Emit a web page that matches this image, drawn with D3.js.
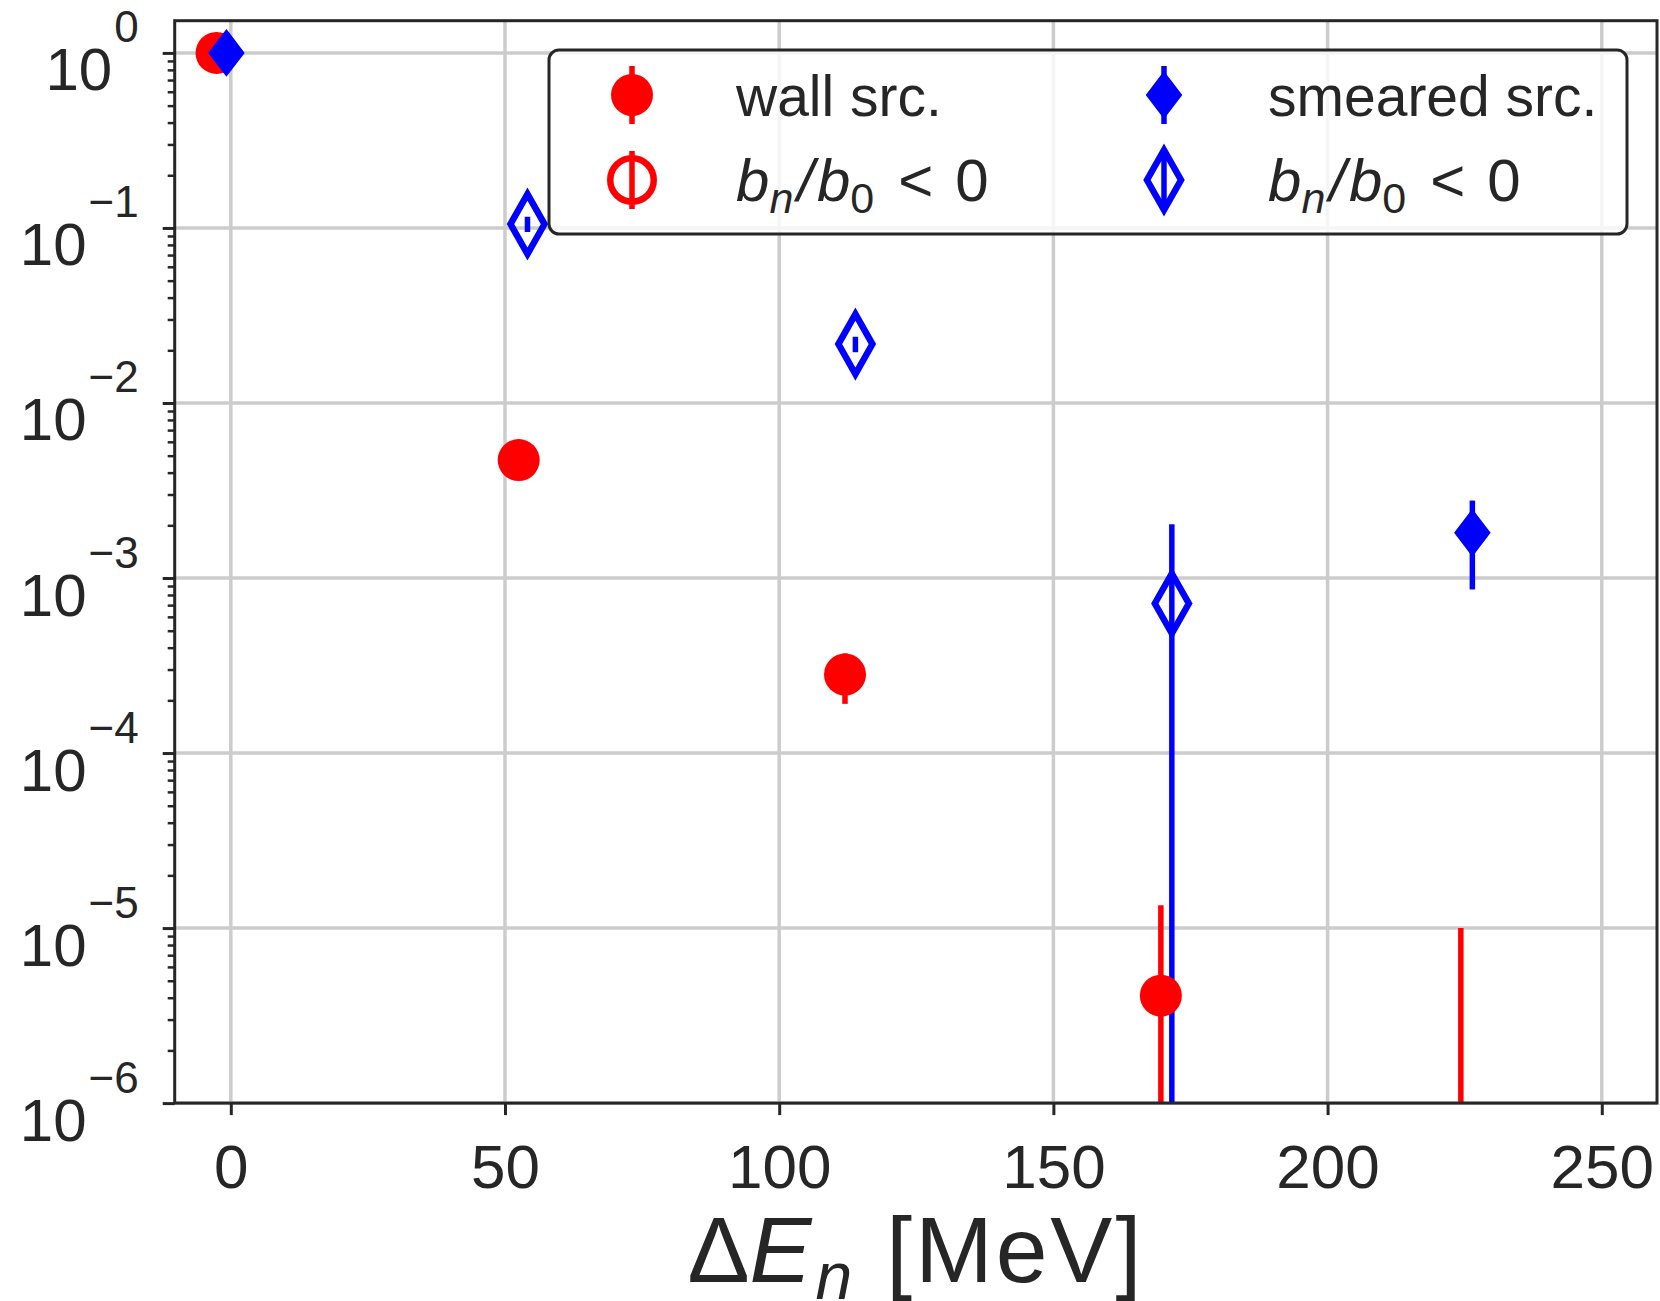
<!DOCTYPE html>
<html>
<head>
<meta charset="utf-8">
<script src="https://cdn.jsdelivr.net/npm/d3@7"></script>
<style>
  html, body { margin: 0; padding: 0; background: #fff; }
  svg { display: block; font-family: "Liberation Sans", Arial, Helvetica, sans-serif; }
</style>
</head>
<body>
<div class="chart"></div>
<script>
// ---- data ----
const wallX   = [-2.6, 52.5, 112.0, 169.6, 224.3];
const wallY   = [1.0, 4.72e-3, 2.81e-4, 4.11e-6, 5.0e-7];
const wallErr = [0, 1.5e-4, 0.9e-4, 9.4e-6, 9.5e-6];
const wallNeg = [false, false, false, false, true];

const smearX   = [-0.8, 54.1, 113.9, 171.6, 226.4];
const smearY   = [1.0, 0.1053, 0.0217, 7.15e-4, 1.815e-3];
const smearErr = [0, 0.0105, 0.0022, 1.316e-3, 0.955e-3];
const smearNeg = [false, true, true, true, false];

const xTicks = [0, 50, 100, 150, 200, 250];
const yExps  = [0, -1, -2, -3, -4, -5, -6];
const legendLabels = ["wall src.", "smeared src."];

// ---- layout ----
const W = 1660, H = 1301;
const pLeft = 174.7, pTop = 20.7, pRight = 1657, pBottom = 1103.1;
const red = "#ff0000", blue = "#0000ff", ink = "#262626";

const x = d3.scaleLinear().domain([-10.23, 260.07]).range([pLeft, pRight]);
const y = d3.scaleLog().domain([1e-6, 1.528]).range([pBottom, pTop]);

const svg = d3.select(".chart").append("svg")
  .attr("width", W)
  .attr("height", H);

svg.append("defs").append("clipPath").attr("id", "plotclip")
  .append("rect")
  .attr("x", pLeft).attr("y", pTop)
  .attr("width", pRight - pLeft).attr("height", pBottom - pTop);

// grid
const grid = svg.append("g");
grid.selectAll(".gx").data(xTicks).enter().append("line")
  .attr("x1", d => x(d)).attr("x2", d => x(d))
  .attr("y1", pTop).attr("y2", pBottom)
  .attr("stroke", "#cccccc").attr("stroke-width", 3.5);
grid.selectAll(".gy").data(yExps).enter().append("line")
  .attr("x1", pLeft).attr("x2", pRight)
  .attr("y1", d => y(Math.pow(10, d))).attr("y2", d => y(Math.pow(10, d)))
  .attr("stroke", "#cccccc").attr("stroke-width", 3.5);

// x axis
const xAxis = svg.append("g")
  .attr("transform", "translate(0," + pBottom + ")")
  .call(d3.axisBottom(x).tickValues(xTicks).tickSize(12).tickFormat(""));
xAxis.select(".domain").remove();
xAxis.selectAll(".tick line").attr("stroke", ink).attr("stroke-width", 3);
xAxis.selectAll(".tick").append("text")
  .attr("y", 85)
  .attr("text-anchor", "middle")
  .attr("fill", ink)
  .attr("font-size", 62)
  .text(d => d);

// y axis, minor ticks first
const minors = [];
for (let e = -6; e < 0; e++) for (let m = 2; m <= 9; m++) minors.push(m * Math.pow(10, e));
const yMinor = svg.append("g")
  .attr("transform", "translate(" + pLeft + ",0)")
  .call(d3.axisLeft(y).tickValues(minors).tickSize(7).tickFormat(""));
yMinor.select(".domain").remove();
yMinor.selectAll(".tick line").attr("stroke", ink).attr("stroke-width", 2.5);

const yAxis = svg.append("g")
  .attr("transform", "translate(" + pLeft + ",0)")
  .call(d3.axisLeft(y).tickValues(yExps.map(e => Math.pow(10, e))).tickSize(12).tickFormat(""));
yAxis.select(".domain").remove();
yAxis.selectAll(".tick line").attr("stroke", ink).attr("stroke-width", 3);
const ylab = yAxis.selectAll(".tick").append("text")
  .attr("x", -36)
  .attr("y", 37)
  .attr("text-anchor", "end")
  .attr("fill", ink)
  .attr("font-size", 60);
ylab.append("tspan").text("10");
ylab.append("tspan")
  .attr("dx", 2)
  .attr("dy", -48)
  .attr("font-size", 44)
  .text(d => {
    const e = Math.round(Math.log10(d));
    return e < 0 ? "\u2212" + (-e) : String(e);
  });

// ---- data ----
const plot = svg.append("g").attr("clip-path", "url(#plotclip)");

function errLines(xs, ys, es, color) {
  plot.append("g").selectAll("line").data(xs).enter().append("line")
    .attr("x1", d => x(d)).attr("x2", d => x(d))
    .attr("y1", (d, i) => y(ys[i] + es[i]))
    .attr("y2", (d, i) => ys[i] - es[i] > 0 ? y(ys[i] - es[i]) : pBottom + 20)
    .attr("stroke", color)
    .attr("stroke-width", 5.5);
}

function diamond(hw, hh) {
  return "M0," + (-hh) + "L" + hw + ",0L0," + hh + "L" + (-hw) + ",0Z";
}

errLines(wallX, wallY, wallErr, red);
errLines(smearX, smearY, smearErr, blue);

// red circles
plot.append("g").selectAll("circle").data(wallX).enter().append("circle")
  .attr("cx", d => x(d))
  .attr("cy", (d, i) => y(wallY[i]))
  .attr("r", (d, i) => wallNeg[i] ? 21.75 : 21)
  .attr("fill", (d, i) => wallNeg[i] ? "none" : red)
  .attr("stroke", (d, i) => wallNeg[i] ? red : "none")
  .attr("stroke-width", 6.5);

// blue diamonds
plot.append("g").selectAll("path").data(smearX).enter().append("path")
  .attr("transform", (d, i) => "translate(" + x(d) + "," + y(smearY[i]) + ")")
  .attr("d", (d, i) => smearNeg[i] ? diamond(17, 30) : diamond(14.5, 19))
  .attr("fill", (d, i) => smearNeg[i] ? "none" : blue)
  .attr("stroke", blue)
  .attr("stroke-width", (d, i) => smearNeg[i] ? 6.5 : 6)
  .attr("stroke-linejoin", "miter")
  .attr("stroke-miterlimit", 10);

// frame
svg.append("rect")
  .attr("x", pLeft).attr("y", pTop)
  .attr("width", pRight - pLeft).attr("height", pBottom - pTop)
  .attr("fill", "none")
  .attr("stroke", ink)
  .attr("stroke-width", 3);

// x label
const xl = svg.append("text")
  .attr("x", (pLeft + pRight) / 2)
  .attr("y", 1282)
  .attr("text-anchor", "middle")
  .attr("fill", ink)
  .attr("font-size", 93);
xl.append("tspan").text("\u0394");
xl.append("tspan").attr("font-style", "italic").text("E");
xl.append("tspan").attr("font-style", "italic").attr("font-size", 66).attr("dx", 4).attr("dy", 17).text("n");
xl.append("tspan").attr("dy", -17).attr("dx", 34).attr("letter-spacing", 3).text("[MeV]");

// ---- legend ----
const lg = svg.append("g");
lg.append("rect")
  .attr("x", 549).attr("y", 50)
  .attr("width", 1078).attr("height", 184)
  .attr("rx", 10)
  .attr("fill", "#fff").attr("fill-opacity", 0.8)
  .attr("stroke", ink).attr("stroke-width", 3);

const cols = [632, 1164];
const rows = [95, 180];
const colors = [red, blue];

cols.forEach((cx, c) => {
  rows.forEach((cy, r) => {
    lg.append("line")
      .attr("x1", cx).attr("x2", cx)
      .attr("y1", cy - 29).attr("y2", cy + 29)
      .attr("stroke", colors[c]).attr("stroke-width", 5.5);
    const open = r === 1;
    if (c === 0) {
      lg.append("circle")
        .attr("cx", cx).attr("cy", cy)
        .attr("r", open ? 21.75 : 21)
        .attr("fill", open ? "none" : red)
        .attr("stroke", open ? red : "none")
        .attr("stroke-width", 6.5);
    } else {
      lg.append("path")
        .attr("transform", "translate(" + cx + "," + cy + ")")
        .attr("d", open ? diamond(17, 30) : diamond(14.5, 19))
        .attr("fill", open ? "none" : blue)
        .attr("stroke", blue)
        .attr("stroke-width", open ? 6.5 : 6)
        .attr("stroke-miterlimit", 10);
    }
    const t = lg.append("text")
      .attr("x", cx + 104)
      .attr("y", cy + 21)
      .attr("fill", ink)
      .attr("font-size", r === 0 ? 57 : 60);
    if (r === 0) {
      t.text(legendLabels[c]);
    } else {
      // b_n / b_0 < 0
      t.append("tspan").attr("font-style", "italic").text("b");
      t.append("tspan").attr("font-style", "italic").attr("font-size", 43).attr("dy", 12).text("n");
      t.append("tspan").attr("font-style", "italic").attr("dy", -12).attr("dx", 4).text("/");
      t.append("tspan").attr("font-style", "italic").attr("dx", 3).text("b");
      t.append("tspan").attr("font-size", 43).attr("dy", 12).text("0");
      t.append("tspan").attr("dy", -12).attr("dx", 24).text("<");
      t.append("tspan").attr("dx", 22).text("0");
    }
  });
});
</script>
</body>
</html>
